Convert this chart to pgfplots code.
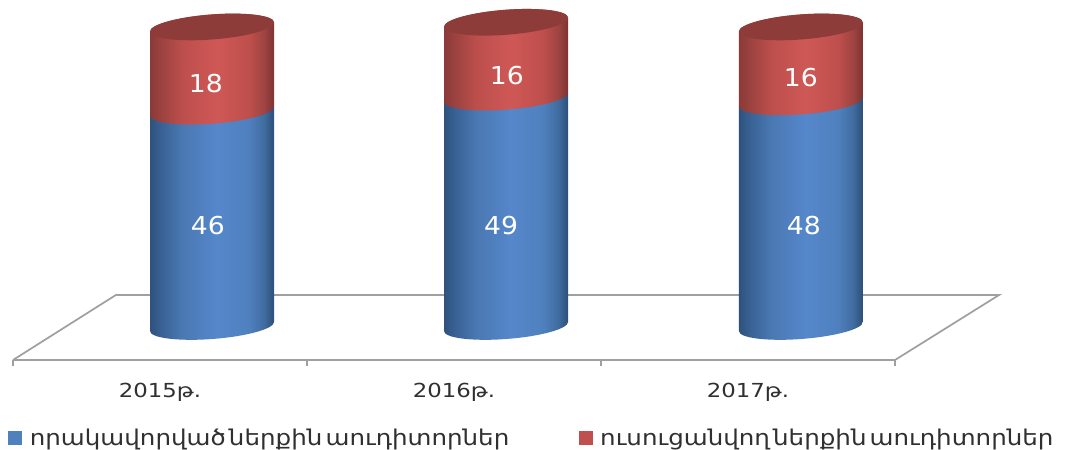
\documentclass[border=0pt]{standalone}
\usepackage{fontspec}
\setmainfont{DejaVu Sans}
\newfontfamily\legfont[FakeStretch=1.13,WordSpace=0.4]{DejaVu Sans}
\newfontfamily\tickfont[FakeStretch=1.18]{DejaVu Sans}
\newfontfamily\numfont[FakeStretch=1.08]{DejaVu Sans}
\usepackage{pgfplots}
\usepackage{pgfplotstable}
\pgfplotsset{compat=1.18}
\definecolor{txt}{HTML}{303030}
\definecolor{floorc}{HTML}{A0A0A0}
\definecolor{capred}{HTML}{8E3C3A}
\definecolor{legblue}{HTML}{4F81BD}
\definecolor{legred}{HTML}{C0504D}
\definecolor{ba}{HTML}{2E527C}
\definecolor{bb}{HTML}{3A6397}
\definecolor{bc}{HTML}{4A78B2}
\definecolor{bd}{HTML}{5587CB}
\definecolor{be}{HTML}{4F80BE}
\definecolor{bf}{HTML}{406C9F}
\definecolor{bg}{HTML}{2C4F77}
\definecolor{ra}{HTML}{8A3A38}
\definecolor{rb}{HTML}{9E4341}
\definecolor{rc}{HTML}{BC4F4C}
\definecolor{rd}{HTML}{CF5856}
\definecolor{re}{HTML}{BE4F4C}
\definecolor{rf}{HTML}{9E4442}
\definecolor{rg}{HTML}{7E3331}
\pgfdeclarehorizontalshading{cylblue}{100bp}{color(0bp)=(ba);color(25bp)=(ba);color(30bp)=(bb);color(38bp)=(bc);color(52bp)=(bd);color(65bp)=(be);color(71bp)=(bf);color(75bp)=(bg);color(100bp)=(bg)}
\pgfdeclarehorizontalshading{cylred}{100bp}{color(0bp)=(ra);color(25bp)=(ra);color(30bp)=(rb);color(38bp)=(rc);color(52bp)=(rd);color(65bp)=(re);color(71bp)=(rf);color(75bp)=(rg);color(100bp)=(rg)}
\pgfdeclareplotmark{cylblue}{%
 \pgfmathsetmacro\hh{\cylh*3.51}%
 \path[draw=none,shading=cylblue,shading angle=0]
  (-46.5pt,-3.4pt) .. controls (-46.5pt,-8.59pt) and (-25.68pt,-11.28pt) .. (0pt,-9.4pt)
  .. controls (25.68pt,-7.52pt) and (46.5pt,-1.79pt) .. (46.5pt,3.4pt)
  -- (46.5pt,\hh pt+3.4pt)
  .. controls (46.5pt,\hh pt+8.59pt) and (25.68pt,\hh pt+11.28pt) .. (0pt,\hh pt+9.4pt)
  .. controls (-25.68pt,\hh pt+7.52pt) and (-46.5pt,\hh pt+1.79pt) .. (-46.5pt,\hh pt-3.4pt)
  -- cycle;}
\pgfdeclareplotmark{cylred}{%
 \pgfmathsetmacro\hh{\cylh*3.51}%
 \path[draw=none,shading=cylred,shading angle=0]
  (-46.5pt,-3.4pt) .. controls (-46.5pt,-8.59pt) and (-25.68pt,-11.28pt) .. (0pt,-9.4pt)
  .. controls (25.68pt,-7.52pt) and (46.5pt,-1.79pt) .. (46.5pt,3.4pt)
  -- (46.5pt,\hh pt+3.4pt)
  .. controls (46.5pt,\hh pt+8.59pt) and (25.68pt,\hh pt+11.28pt) .. (0pt,\hh pt+9.4pt)
  .. controls (-25.68pt,\hh pt+7.52pt) and (-46.5pt,\hh pt+1.79pt) .. (-46.5pt,\hh pt-3.4pt)
  -- cycle;}
\pgfdeclareplotmark{cylcap}{%
 \path[draw=none,fill=capred]
  (-46.5pt,-3.4pt) .. controls (-46.5pt,-8.59pt) and (-25.68pt,-11.28pt) .. (0pt,-9.4pt)
  .. controls (25.68pt,-7.52pt) and (46.5pt,-1.79pt) .. (46.5pt,3.4pt)
  .. controls (46.5pt,8.59pt) and (25.68pt,11.28pt) .. (0pt,9.4pt)
  .. controls (-25.68pt,7.52pt) and (-46.5pt,1.79pt) .. (-46.5pt,-3.4pt)
  -- cycle;}
% x, base of the segment, its height
\pgfplotstableread{
x base h
0.177 0 46
1.177 0 49
2.180 0 48
}\bluedata
\pgfplotstableread{
x base h
0.177 46 18
1.177 49 16
2.180 48 16
}\reddata
\pgfplotstableread{
x y
0.177 64
1.177 65
2.180 64
}\topdata
% label positions and values
\pgfplotstableread{
x y v
0.163 21.5 46
1.160 21.5 49
2.190 21.5 48
0.156 52.0 18
1.180 53.7 16
2.180 53.1 16
}\labeldata
\begin{document}
\begin{tikzpicture}[x=1pt,y=1pt]
\useasboundingbox (0,0) rectangle (798.75pt,337.5pt);
\begin{axis}[
  at={(9.75pt,67.5pt)},anchor=south west,
  scale only axis,width=661.5pt,height=270pt,
  xmin=-0.5,xmax=2.5,ymin=-7.16,ymax=69.76,
  clip=false,
  axis x line*=bottom,axis y line=none,
  axis line style={-,floorc,line width=1.3pt},
  xtick={0,1,2},xticklabels={2015թ.,2016թ.,2017թ.},
  minor xtick={-0.5,0.5,1.5,2.5},
  tick align=outside,
  major tick length=0pt,minor tick length=4.5pt,
  minor tick style={floorc,line width=1.3pt},
  xticklabel style={font=\tickfont\fontsize{14.5}{16}\selectfont,text=txt,anchor=center,yshift=-24pt},
  legend style={at={(-0.0057,-0.2167)},anchor=west,draw=none,fill=none,
    legend columns=2,font=\legfont\fontsize{16.3}{18}\selectfont,text=txt,
    inner sep=0pt,
    /tikz/every even column/.append style={column sep=50pt}},
  legend image code/.code={\fill[draw=none,#1] (0pt,-4.9pt) rectangle (10.5pt,4.9pt);\path (14pt,0pt);},
]
\addplot[forget plot,floorc,line width=1.3pt,no markers] coordinates {
 (-0.5,-7.16) (-0.15,6.73) (2.854,6.73) (2.5,-7.16)};
\addplot[forget plot,only marks,scatter,mark=cylblue,
   visualization depends on={\thisrow{h} \as \cylh}]
   table[x=x,y=base]{\bluedata};
\addplot[forget plot,only marks,scatter,mark=cylred,
   visualization depends on={\thisrow{h} \as \cylh}]
   table[x=x,y=base]{\reddata};
\addplot[forget plot,only marks,mark=cylcap] table[x=x,y=y]{\topdata};
\addplot[forget plot,only marks,mark=none,
   nodes near coords,point meta=explicit,
   nodes near coords style={anchor=center,text=white,font=\numfont\fontsize{18.5}{20}\selectfont,
     /pgf/number format/assume math mode=true}]
   table[x=x,y=y,meta=v]{\labeldata};
\addlegendimage{fill=legblue}
\addlegendimage{fill=legred}
\legend{որակավորված ներքին աուդիտորներ,ուսուցանվող ներքին աուդիտորներ}
\end{axis}
\end{tikzpicture}
\end{document}
